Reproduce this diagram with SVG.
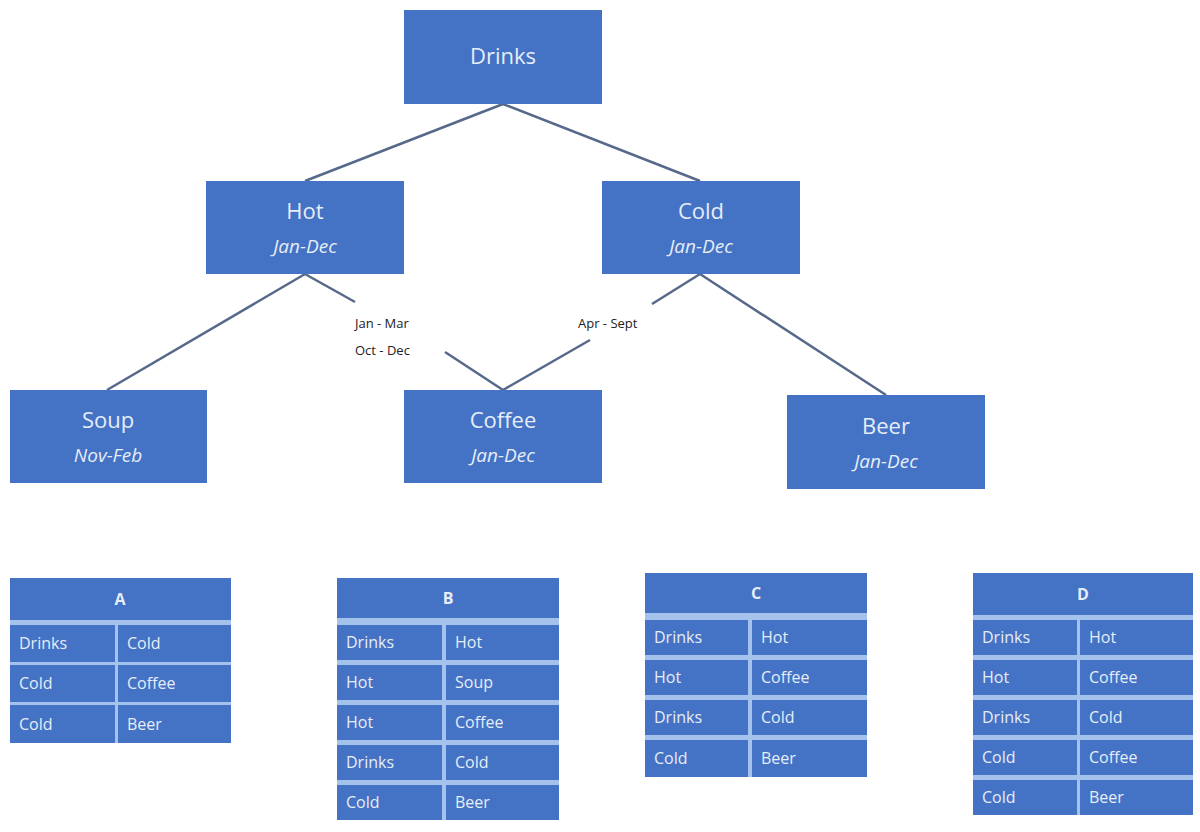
<svg xmlns="http://www.w3.org/2000/svg" width="1200" height="832" viewBox="0 0 1200 832">
<style>
.node{fill:#4472C4;}
.t{font-family:"Open Sans","Liberation Sans",sans-serif;fill:#E6EDF8;text-anchor:middle;}
.main{font-size:22px;}
.sub{font-size:19px;font-style:italic;}
.edge{stroke:#56698A;stroke-width:2.5;fill:none;}
.lbl{font-family:"Open Sans","Liberation Sans",sans-serif;font-size:13px;fill:#222;}
.tb{fill:#A4C2EC;}
.cell{fill:#4472C4;}
.ct{font-family:"Open Sans","Liberation Sans",sans-serif;font-size:16px;fill:#E6EDF8;}
.hd{font-family:"Open Sans","Liberation Sans",sans-serif;font-size:16px;font-weight:bold;fill:#E6EDF8;text-anchor:middle;}
</style>
<rect width="1200" height="832" fill="#fff"/>
<g id="connectors">
<line class="edge" x1="503" y1="104" x2="305" y2="181"/>
<line class="edge" x1="503" y1="104" x2="700" y2="181"/>
<line class="edge" x1="305" y1="274" x2="107" y2="390"/>
<line class="edge" x1="305" y1="274" x2="355" y2="302"/>
<line class="edge" x1="445" y1="352" x2="503" y2="390"/>
<line class="edge" x1="700" y1="274" x2="652" y2="304"/>
<line class="edge" x1="590" y1="340" x2="503" y2="390"/>
<line class="edge" x1="700" y1="274" x2="886" y2="395"/>
<text class="lbl" x="355" y="328">Jan - Mar</text>
<text class="lbl" x="355" y="355">Oct - Dec</text>
<text class="lbl" x="578" y="328">Apr - Sept</text>
</g>
<g id="drinks"><rect class="node" x="404" y="10" width="198" height="94"/><text class="t main" x="503" y="64">Drinks</text></g>
<g id="hot"><rect class="node" x="206" y="181" width="198" height="93"/><text class="t main" x="305" y="219">Hot</text><text class="t sub" x="305" y="253">Jan-Dec</text></g>
<g id="cold"><rect class="node" x="602" y="181" width="198" height="93"/><text class="t main" x="701" y="219">Cold</text><text class="t sub" x="701" y="253">Jan-Dec</text></g>
<g id="soup"><rect class="node" x="10" y="390" width="197" height="93"/><text class="t main" x="108" y="428">Soup</text><text class="t sub" x="108" y="462">Nov-Feb</text></g>
<g id="coffee"><rect class="node" x="404" y="390" width="198" height="93"/><text class="t main" x="503" y="428">Coffee</text><text class="t sub" x="503" y="462">Jan-Dec</text></g>
<g id="beer"><rect class="node" x="787" y="395" width="198" height="94"/><text class="t main" x="886" y="434">Beer</text><text class="t sub" x="886" y="468">Jan-Dec</text></g>

<g id="tableA">
<rect class="tb" x="10" y="578" width="221" height="165"/>
<rect class="cell" x="10" y="578" width="221" height="42"/><text class="hd" x="120" y="605">A</text>
<rect class="cell" x="10" y="625" width="105" height="37"/><rect class="cell" x="118" y="625" width="113" height="37"/>
<rect class="cell" x="10" y="665" width="105" height="37"/><rect class="cell" x="118" y="665" width="113" height="37"/>
<rect class="cell" x="10" y="705" width="105" height="38"/><rect class="cell" x="118" y="705" width="113" height="38"/>
<text class="ct" x="19" y="649">Drinks</text><text class="ct" x="127" y="649">Cold</text>
<text class="ct" x="19" y="689">Cold</text><text class="ct" x="127" y="689">Coffee</text>
<text class="ct" x="19" y="730">Cold</text><text class="ct" x="127" y="730">Beer</text>
</g>

<g id="tableB">
<rect class="tb" x="337" y="578" width="222" height="242"/>
<rect class="cell" x="337" y="578" width="222" height="40"/><text class="hd" x="448" y="604">B</text>
<rect class="cell" x="337" y="625" width="105" height="35"/><rect class="cell" x="446" y="625" width="113" height="35"/>
<rect class="cell" x="337" y="665" width="105" height="35"/><rect class="cell" x="446" y="665" width="113" height="35"/>
<rect class="cell" x="337" y="705" width="105" height="35"/><rect class="cell" x="446" y="705" width="113" height="35"/>
<rect class="cell" x="337" y="745" width="105" height="35"/><rect class="cell" x="446" y="745" width="113" height="35"/>
<rect class="cell" x="337" y="785" width="105" height="35"/><rect class="cell" x="446" y="785" width="113" height="35"/>
<text class="ct" x="346" y="648">Drinks</text><text class="ct" x="455" y="648">Hot</text>
<text class="ct" x="346" y="688">Hot</text><text class="ct" x="455" y="688">Soup</text>
<text class="ct" x="346" y="728">Hot</text><text class="ct" x="455" y="728">Coffee</text>
<text class="ct" x="346" y="768">Drinks</text><text class="ct" x="455" y="768">Cold</text>
<text class="ct" x="346" y="808">Cold</text><text class="ct" x="455" y="808">Beer</text>
</g>

<g id="tableC">
<rect class="tb" x="645" y="573" width="222" height="204"/>
<rect class="cell" x="645" y="573" width="222" height="40"/><text class="hd" x="756" y="599">C</text>
<rect class="cell" x="645" y="620" width="103" height="35"/><rect class="cell" x="752" y="620" width="115" height="35"/>
<rect class="cell" x="645" y="660" width="103" height="35"/><rect class="cell" x="752" y="660" width="115" height="35"/>
<rect class="cell" x="645" y="700" width="103" height="35"/><rect class="cell" x="752" y="700" width="115" height="35"/>
<rect class="cell" x="645" y="740" width="103" height="37"/><rect class="cell" x="752" y="740" width="115" height="37"/>
<text class="ct" x="654" y="643">Drinks</text><text class="ct" x="761" y="643">Hot</text>
<text class="ct" x="654" y="683">Hot</text><text class="ct" x="761" y="683">Coffee</text>
<text class="ct" x="654" y="723">Drinks</text><text class="ct" x="761" y="723">Cold</text>
<text class="ct" x="654" y="764">Cold</text><text class="ct" x="761" y="764">Beer</text>
</g>

<g id="tableD">
<rect class="tb" x="973" y="573" width="220" height="242"/>
<rect class="cell" x="973" y="573" width="220" height="42"/><text class="hd" x="1083" y="600">D</text>
<rect class="cell" x="973" y="620" width="104" height="35"/><rect class="cell" x="1080" y="620" width="113" height="35"/>
<rect class="cell" x="973" y="660" width="104" height="35"/><rect class="cell" x="1080" y="660" width="113" height="35"/>
<rect class="cell" x="973" y="700" width="104" height="35"/><rect class="cell" x="1080" y="700" width="113" height="35"/>
<rect class="cell" x="973" y="740" width="104" height="35"/><rect class="cell" x="1080" y="740" width="113" height="35"/>
<rect class="cell" x="973" y="780" width="104" height="35"/><rect class="cell" x="1080" y="780" width="113" height="35"/>
<text class="ct" x="982" y="643">Drinks</text><text class="ct" x="1089" y="643">Hot</text>
<text class="ct" x="982" y="683">Hot</text><text class="ct" x="1089" y="683">Coffee</text>
<text class="ct" x="982" y="723">Drinks</text><text class="ct" x="1089" y="723">Cold</text>
<text class="ct" x="982" y="763">Cold</text><text class="ct" x="1089" y="763">Coffee</text>
<text class="ct" x="982" y="803">Cold</text><text class="ct" x="1089" y="803">Beer</text>
</g>
</svg>
